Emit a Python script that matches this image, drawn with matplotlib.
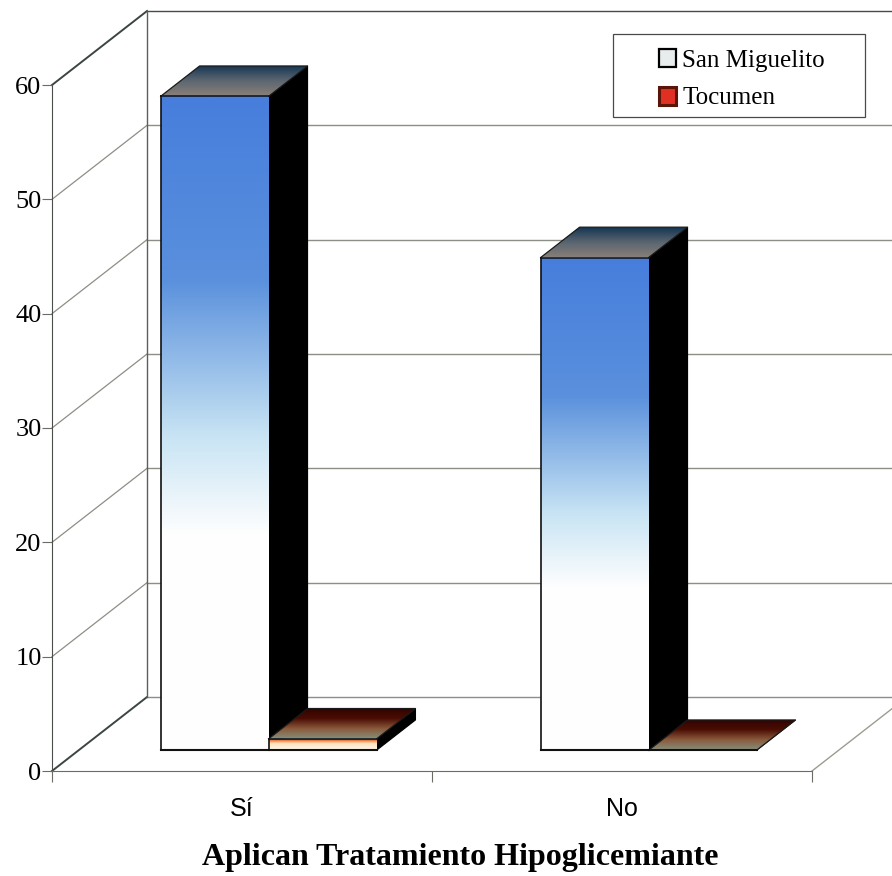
import numpy as np
import matplotlib.pyplot as plt
from matplotlib.colors import LinearSegmentedColormap
from matplotlib.patches import Patch, Polygon, Rectangle

categories = ['Sí', 'No']
san_miguelito = [57.2, 43.1]
tocumen = [1.0, 0.0]
series_names = ['San Miguelito', 'Tocumen']
y_ticks = [0, 10, 20, 30, 40, 50, 60]
x_label = 'Aplican Tratamiento Hipoglicemiante'

# chart box depth, in category and value units
DEPTH_X = 0.25
DEPTH_Y = 6.47
BAR_WIDTH = 0.284
BAR_FRONT = 0.28
BAR_BACK = 0.69

blue_face = LinearSegmentedColormap.from_list('blue_face', [(0, '#ffffff'), (0.33, '#fefefe'), (0.48, '#c8e4f4'), (0.72, '#5a90dc'), (1, '#477edd')])
blue_top = LinearSegmentedColormap.from_list('blue_top', ['#8a8078', '#5c6670', '#143452'])
red_face = LinearSegmentedColormap.from_list('red_face', [(0, '#fff8ea'), (0.55, '#ffe3c0'), (0.8, '#f0803c'), (1, '#3a0800')])
red_top = LinearSegmentedColormap.from_list('red_top', ['#86907c', '#8a5a3c', '#4a0c02', '#300400'])
#
def project(x, value, depth):
	return x + depth * DEPTH_X, value + depth * DEPTH_Y
#
def gradient_fill(ax, points, cmap):
	points = np.array(points)
	patch = Polygon(points, closed=True, facecolor='none', edgecolor='none', clip_on=False)
	ax.add_patch(patch)
	extent = (points[:, 0].min(), points[:, 0].max(), points[:, 1].min(), points[:, 1].max())
	ramp = np.linspace(0, 1, 256).reshape(-1, 1)
	image = ax.imshow(ramp, extent=extent, origin='lower', aspect='auto', cmap=cmap, vmin=0, vmax=1, zorder=3)
	image.set_clip_box(ax.figure.bbox)
	image.set_clip_path(patch)
#
def draw_bar(ax, left, value, face_cmap, top_cmap):
	right = left + BAR_WIDTH
	fl = project(left, 0, BAR_FRONT)
	fr = project(right, 0, BAR_FRONT)
	br = project(right, 0, BAR_BACK)
	tfl = project(left, value, BAR_FRONT)
	tfr = project(right, value, BAR_FRONT)
	tbr = project(right, value, BAR_BACK)
	tbl = project(left, value, BAR_BACK)
	ax.add_patch(Polygon([fr, br, tbr, tfr], closed=True, facecolor='black', edgecolor='black', lw=0.8, zorder=3, clip_on=False))
	if value > 0:
		gradient_fill(ax, [fl, fr, tfr, tfl], face_cmap)
	gradient_fill(ax, [tfl, tfr, tbr, tbl], top_cmap)
	ax.plot([tfl[0], tbl[0], tbr[0], tfr[0]], [tfl[1], tbl[1], tbr[1], tfr[1]], color='#1a1a1a', lw=0.9, zorder=4, clip_on=False)
	ax.plot([tfl[0], tfr[0]], [tfl[1], tfr[1]], color='#101828', lw=1.2, zorder=4, clip_on=False)
	ax.plot([fl[0], tfl[0]], [fl[1], tfl[1]], color='#111111', lw=1.2, zorder=4, clip_on=False)
	ax.plot([fl[0], fr[0]], [fl[1], fr[1]], color='#111111', lw=1.5, zorder=4, clip_on=False)
#
def main():
	figure = plt.figure(figsize=(8.92, 8.76), dpi=100)
	ax = figure.add_axes([52 / 892, 105 / 876, 840 / 892, 686 / 876])
	ax.patch.set_visible(False)
	x_max = 840 / 380

	# walls and gridlines
	for tick in y_ticks:
		dark = tick in (0, 60)
		color = '#3c463f' if dark else '#8c8f86'
		back_x, back_y = project(0, tick, 1)
		ax.plot([0, back_x], [tick, back_y], color=color, lw=1.4 if dark else 0.9, zorder=1, clip_on=False)
		ax.plot([back_x, x_max], [back_y, back_y], color='#4a4a4a' if tick == 60 else '#8c8f86', lw=1.0, zorder=1, clip_on=False)
	wall_x, wall_y = project(0, 0, 1)
	ax.plot([wall_x, wall_x], [wall_y, 60 + DEPTH_Y], color='#5a5f5a', lw=1.0, zorder=1, clip_on=False)
	floor_x, floor_y = project(2, 0, 1)
	ax.plot([2, floor_x], [0, floor_y], color='#9a9d90', lw=1.0, zorder=1, clip_on=False)

	# bars
	for index in range(len(categories)):
		left = index + 0.5 - BAR_WIDTH
		draw_bar(ax, left, san_miguelito[index], blue_face, blue_top)
		draw_bar(ax, left + BAR_WIDTH, tocumen[index], red_face, red_top)

	# real axes for the front edge of the box
	ax.set_xlim(0, x_max)
	ax.set_ylim(0, 60)
	for name in ('top', 'right'):
		ax.spines[name].set_visible(False)
	ax.spines['left'].set_color('#4a4f4a')
	ax.spines['bottom'].set_color('#6a6d66')
	ax.spines['bottom'].set_bounds(0, 2)
	ax.set_yticks(y_ticks)
	ax.set_xticks([0, 1, 2])
	ax.set_xticklabels([])
	ax.set_xticks([0.5, 1.5], minor=True)
	ax.set_xticklabels(categories, minor=True, family='Liberation Sans', fontsize=18)
	ax.tick_params(axis='x', which='major', length=8, color='#6a6d66')
	ax.tick_params(axis='x', which='minor', length=0, pad=19)
	ax.tick_params(axis='y', length=7, color='#6a6d66', pad=0.5)
	for label in ax.get_yticklabels():
		label.set_family('Liberation Serif')
		label.set_fontsize(19)
	ax.set_xlabel(x_label, family='Liberation Serif', fontsize=23, fontweight='bold', va='center')
	ax.xaxis.set_label_coords((460 - 52) / 840, -(857 - 771) / 686)

	# legend box
	figure.add_artist(Rectangle((613 / 892, 1 - 117 / 876), 252 / 892, 83 / 876, transform=figure.transFigure, facecolor='white', edgecolor='#4a4a4a', lw=0.9, zorder=5))
	handles = [Patch(facecolor='#e8ecec', edgecolor='black', lw=1.6), Patch(facecolor='#e03024', edgecolor='#5a1408', lw=2.2)]
	legend = figure.legend(handles, series_names, loc='center left', bbox_to_anchor=(646 / 892, 1 - 79 / 876), frameon=False, prop={'family': 'Liberation Serif', 'size': 18}, handlelength=0.68, handleheight=0.75, handletextpad=0.28, labelspacing=0.6, borderpad=0)
	legend.set_zorder(6)

	figure.savefig('out.png', dpi=100, facecolor='white')
#
if __name__ == '__main__':
	main()
